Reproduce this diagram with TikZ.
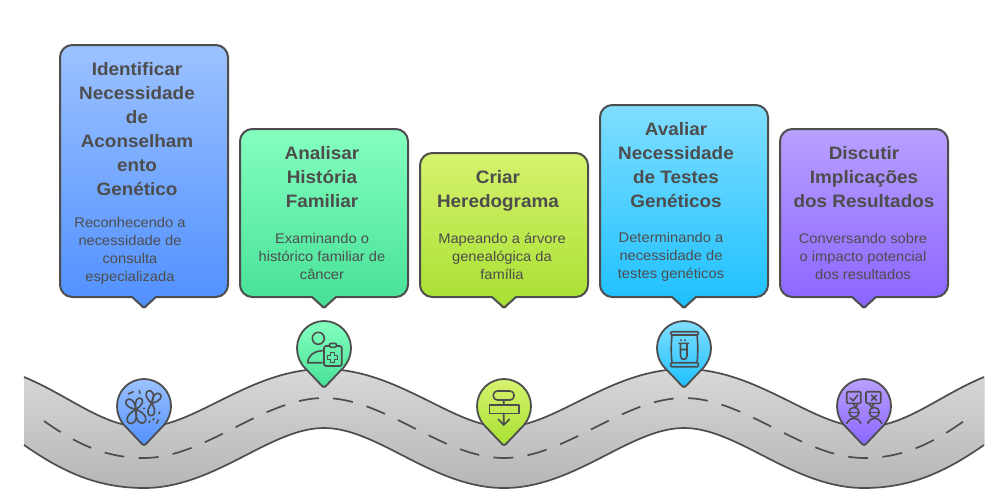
\documentclass[tikz,border=0pt]{standalone}
\usepackage{fontspec}
\setmainfont[FakeStretch=1.05]{Liberation Sans}
\usetikzlibrary{positioning}
\definecolor{inkgray}{HTML}{4D4D4D}
\definecolor{blueA}{HTML}{9CC2FF}
\definecolor{blueB}{HTML}{5090FF}
\definecolor{greenA}{HTML}{84FFC0}
\definecolor{greenB}{HTML}{46E096}
\definecolor{limeA}{HTML}{D6F26E}
\definecolor{limeB}{HTML}{A8E032}
\definecolor{cyanA}{HTML}{80DEFF}
\definecolor{cyanB}{HTML}{1CC0FF}
\definecolor{violetA}{HTML}{B8A0FF}
\definecolor{violetB}{HTML}{8A64FF}
\definecolor{roadA}{HTML}{D8D8D8}
\definecolor{roadB}{HTML}{B6B6B6}

% box with its pointer, #1 = left edge, #2 = top edge
\newcommand{\calloutbox}[4]{
  \draw[boxline, top color=#3, bottom color=#4]
    (#1+12,#2) -- (#1+156,#2) to[out=0,in=90,looseness=.95] (#1+168,#2+12)
    -- (#1+168,285) to[out=-90,in=0,looseness=.95] (#1+156,297) -- (#1+96,297)
    -- (#1+85.5,306.5) to[out=-40,in=-140,looseness=1.4] (#1+82.5,306.5) -- (#1+72,297)
    -- (#1+12,297) to[out=180,in=-90,looseness=.95] (#1,285)
    -- (#1,#2+12) to[out=90,in=180,looseness=.95] cycle;
}
% map pin, #1 #2 = centre of the round head
\newcommand{\mappin}[4]{
  \begin{scope}[shift={(#1,#2)}]
    \draw[pinline, top color=#3, bottom color=#4]
      (0,40) [rounded corners=1.5pt] -- (-20,19) [sharp corners]
      .. controls (-24.5,13.5) and (-27,7) .. (-27,0)
      .. controls (-27,-14.9) and (-14.9,-27) .. (0,-27)
      .. controls (14.9,-27) and (27,-14.9) .. (27,0)
      .. controls (27,7) and (24.5,13.5) .. (20,19) [rounded corners=1.5pt] -- (0,40) -- cycle;
  \end{scope}
}

\begin{document}
\begin{tikzpicture}[
    x=1pt, y=-1pt,
    boxline/.style={draw=inkgray, line width=2pt},
    pinline/.style={draw=inkgray, line width=1.8pt, line join=round},
    roadline/.style={draw=inkgray, line width=1.7pt},
    icon/.style={draw=inkgray, line width=1.6pt, line cap=round, line join=round},
    title/.style={text=inkgray, inner sep=0pt, align=center,
                  font=\fontsize{18}{24}\selectfont\bfseries},
    desc/.style={text=inkgray, inner sep=0pt, align=center,
                 font=\fontsize{14}{18}\selectfont}
  ]
    \useasboundingbox (0,0) rectangle (1008,490);

    % road
    \fill[top color=roadA, bottom color=roadB]
      (24,377) .. controls (70,396) and (103,427) .. (144,427)
      .. controls (195,427) and (250,369) .. (324,369)
      .. controls (398,369) and (453,427) .. (504,427)
      .. controls (555,427) and (610,369) .. (684,369)
      .. controls (758,369) and (813,427) .. (864,427)
      .. controls (905,427) and (938,396) .. (984,377)
      -- (984,445)
      .. controls (948,470) and (913,488) .. (864,488)
      .. controls (793,488) and (738,428) .. (684,428)
      .. controls (630,428) and (575,488) .. (504,488)
      .. controls (433,488) and (378,428) .. (324,428)
      .. controls (270,428) and (215,488) .. (144,488)
      .. controls (95,488) and (60,470) .. (24,445) -- cycle;
    \draw[roadline]
      (24,377) .. controls (70,396) and (103,427) .. (144,427)
      .. controls (195,427) and (250,369) .. (324,369)
      .. controls (398,369) and (453,427) .. (504,427)
      .. controls (555,427) and (610,369) .. (684,369)
      .. controls (758,369) and (813,427) .. (864,427)
      .. controls (905,427) and (938,396) .. (984,377);
    \draw[roadline]
      (24,445) .. controls (60,470) and (95,488) .. (144,488)
      .. controls (215,488) and (270,428) .. (324,428)
      .. controls (378,428) and (433,488) .. (504,488)
      .. controls (575,488) and (630,428) .. (684,428)
      .. controls (738,428) and (793,488) .. (864,488)
      .. controls (913,488) and (948,470) .. (984,445);
    \draw[roadline, dash pattern=on 20pt off 14.35pt]
      (44,421) .. controls (75,443) and (105,458) .. (144,458)
      .. controls (205,458) and (263,398) .. (324,398)
      .. controls (385,398) and (443,458) .. (504,458)
      .. controls (565,458) and (623,398) .. (684,398)
      .. controls (745,398) and (803,458) .. (864,458)
      .. controls (903,458) and (933,443) .. (964,421);

    % boxes
    \calloutbox{60}{45}{blueA}{blueB}
    \calloutbox{240}{129}{greenA}{greenB}
    \calloutbox{420}{153}{limeA}{limeB}
    \calloutbox{600}{105}{cyanA}{cyanB}
    \calloutbox{780}{129}{violetA}{violetB}

    % box texts
    \node[title] (identify) at (137,129) {Identificar\\Necessidade\\de\\Aconselham\\ento\\Genético};
    \node[desc] (identifyText) at (130,250.5) {Reconhecendo a\\necessidade de\\consulta\\especializada};
    \node[title] (analyse) at (322,177) {Analisar\\História\\Familiar};
    \node[desc] (analyseText) at (322,256) {Examinando o\\histórico familiar de\\câncer};
    \node[title] (create) at (498,191) {Criar\\Heredograma};
    \node[desc] (createText) at (502,256) {Mapeando a árvore\\genealógica da\\família};
    \node[title] (assess) at (676,165) {Avaliar\\Necessidade\\de Testes\\Genéticos};
    \node[desc] (assessText) at (671,256.5) {Determinando a\\necessidade de\\testes genéticos};
    \node[title] (discuss) at (864,177) {Discutir\\Implicações\\dos Resultados};
    \node[desc] (discussText) at (863,256) {Conversando sobre\\o impacto potencial\\dos resultados};

    % pins
    \mappin{144}{406}{blueA}{blueB}
    \mappin{324}{348}{greenA}{greenB}
    \mappin{504}{406}{limeA}{limeB}
    \mappin{684}{348}{cyanA}{cyanB}
    \mappin{864}{406}{violetA}{violetB}

    % icon: butterflies
    \begin{scope}[shift={(144,406)}]
      \foreach \jx/\jy/\tx/\ty in {-8/3.3/-17.3/-6, -8/3.3/-3.3/-7.7, -8/3.3/-14.7/17.3, -8/3.3/0/16.7,
                                   7.7/-2.7/4.7/-15.3, 7.7/-2.7/16/-12, 7.7/-2.7/7/9.7} {
        \pgfmathsetmacro{\ax}{\jx+1.33*(\tx-\jx)+.95*(\ty-\jy)}
        \pgfmathsetmacro{\ay}{\jy+1.33*(\ty-\jy)-.95*(\tx-\jx)}
        \pgfmathsetmacro{\bx}{\jx+1.33*(\tx-\jx)-.95*(\ty-\jy)}
        \pgfmathsetmacro{\by}{\jy+1.33*(\ty-\jy)+.95*(\tx-\jx)}
        \draw[icon] (\jx,\jy) .. controls (\ax,\ay) and (\bx,\by) .. (\jx,\jy);
      }
      \draw[icon] (-15.7,-12) -- (-10.7,-14.3) (-4.7,-15.3) -- (-4,-12.7) (-0.5,2.3) -- (0.5,2.3)
        (5,16.5) -- (6,15) (12.7,17.3) -- (14.3,14) (15,7.5) -- (15.7,6) (9,14) -- (10,12.5);
    \end{scope}

    % icon: person with clipboard
    \begin{scope}[shift={(324,348)}]
      \draw[icon] (-5.7,-9.7) circle [radius=6];
      \draw[icon] (-2,14.7) -- (-16.3,14.7) .. controls (-16,7) and (-9,2.7) .. (-1.7,2.7);
      \draw[icon, rounded corners=1.5pt] (0,-2) rectangle (17.7,18);
      \draw[icon, fill=greenB!60!greenA, rounded corners=1.5pt] (5.3,-4.7) rectangle (12.7,-0.7);
      \draw[icon] (6.5,4.5) -- (10.5,4.5) -- (10.5,7.5) -- (13.5,7.5) -- (13.5,11.5) -- (10.5,11.5)
        -- (10.5,14.5) -- (6.5,14.5) -- (6.5,11.5) -- (3.5,11.5) -- (3.5,7.5) -- (6.5,7.5) -- cycle;
    \end{scope}

    % icon: flow chart
    \begin{scope}[shift={(504,406)}]
      \draw[icon, rounded corners=4pt] (-10.7,-15) rectangle (10,-6);
      \draw[icon] (-14.7,-1) rectangle (15,7.3);
      \draw[icon] (-0.3,-6) -- (-0.3,-1) (-0.3,7.3) -- (-0.3,19)
        (-5.7,13.3) -- (-0.3,19) -- (5.3,13.3);
    \end{scope}

    % icon: test kit
    \begin{scope}[shift={(684,348)}]
      \draw[icon, rounded corners=1pt] (-13.3,-16.3) rectangle (14.3,-13);
      \draw[icon, rounded corners=1pt] (-13.3,14.7) rectangle (14.3,18.7);
      \draw[icon] (-12,-13) .. controls (-13,-4) and (-13,6) .. (-12,14.7)
        (13,-13) .. controls (14,-4) and (14,6) .. (13,14.7);
      \draw[icon] (-5,-4.7) -- (4.5,-4.7) (-3.5,-4.7) -- (-3.5,8)
        .. controls (-3.5,12.5) and (3,12.5) .. (3,8) -- (3,-4.7) (-3.5,1.5) -- (3,1.5);
      \draw[icon] (-3,-8) -- (-3,-7.6) (1,-8) -- (1,-7.6);
    \end{scope}

    % icon: two people with speech boxes
    \begin{scope}[shift={(864,406)}]
      \draw[icon, rounded corners=1pt] (-17.3,-14.3) rectangle (-3.3,-2.7);
      \draw[icon, rounded corners=1pt] (2,-14.3) rectangle (16.7,-2.7);
      \draw[icon] (-11,-2.7) -- (-8,1.3) -- (-6,-2.7) (5,-2.7) -- (7.7,1.3) -- (10,-2.7);
      \draw[icon] (-14,-8) -- (-10.7,-5.3) -- (-6.3,-11);
      \draw[icon] (7.5,-10.8) -- (12.5,-5.8) (12.5,-10.8) -- (7.5,-5.8);
      \draw[icon] (-10,6.3) circle [radius=5] (10.3,6.3) circle [radius=5];
      \draw[icon] (-15,6.3) -- (-5,6.3) (5.3,6.3) -- (15.3,6.3);
      \draw[icon] (-17.3,17.3) .. controls (-15,13.5) and (-13,12.3) .. (-10,12.3)
        .. controls (-7,12.3) and (-5,13.5) .. (-3.3,17.3);
      \draw[icon] (3.7,17.3) .. controls (6,13.5) and (8,12.3) .. (10.7,12.3)
        .. controls (13.5,12.3) and (15.5,13.5) .. (17.7,17.3);
    \end{scope}
  \end{tikzpicture}
\end{document}
